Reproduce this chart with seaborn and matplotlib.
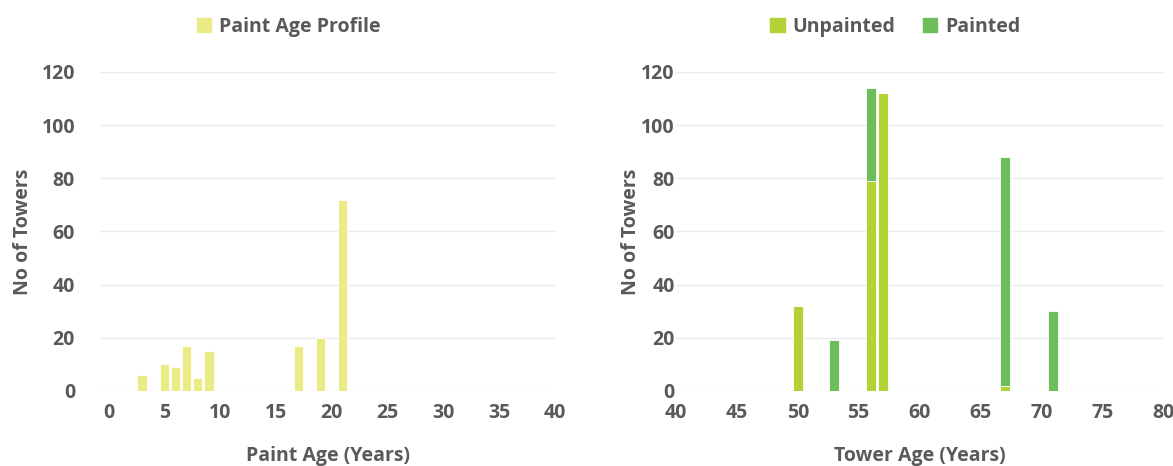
import matplotlib
matplotlib.use("Agg")
import matplotlib.pyplot as plt
from matplotlib.patches import Patch
import pandas as pd
import seaborn as sns

# Paint age profile
paint_age = [3, 5, 6, 7, 8, 9, 17, 19, 21]
paint_count = [6, 10, 9, 17, 5, 15, 17, 20, 72]

# Tower age profile, split by paint status
unpainted_age = [50, 56, 57, 67]
unpainted_count = [32, 79, 112, 2]
painted_age = [53, 56, 67, 71]
painted_count = [19, 35, 86, 30]

y_ticks = [0, 20, 40, 60, 80, 100, 120]
left_ticks = [0, 5, 10, 15, 20, 25, 30, 35, 40]
right_ticks = [40, 45, 50, 55, 60, 65, 70, 75, 80]

YELLOW = "#EBEB86"
LIME = "#B2D235"
GREEN = "#6DBE5A"
TEXT = "#595959"
GRID = "#EBEBEB"
FS_TICK = 14
FS_LABEL = 14
FS_LEGEND = 14

sns.set_theme(style="white")
plt.rcParams["font.family"] = ["Open Sans", "DejaVu Sans"]
plt.rcParams["font.weight"] = "bold"

paint_df = pd.DataFrame({"age": paint_age, "count": paint_count})
tower_df = pd.concat([
    pd.DataFrame({"age": unpainted_age, "count": unpainted_count, "status": "Unpainted"}),
    pd.DataFrame({"age": painted_age, "count": painted_count, "status": "Painted"}),
], ignore_index=True)

fig = plt.figure(figsize=(11.73, 4.66), dpi=100)
ax1 = fig.add_axes([0.0853, 0.161, 0.3879, 0.6845])
ax2 = fig.add_axes([0.5763, 0.161, 0.4152, 0.6845])

sns.histplot(data=paint_df, x="age", weights="count", discrete=True, shrink=0.82,
             color=YELLOW, alpha=1, edgecolor="white", linewidth=0.6, ax=ax1)

sns.histplot(data=tower_df, x="age", weights="count", hue="status",
             hue_order=["Painted", "Unpainted"], multiple="stack",
             palette={"Unpainted": LIME, "Painted": GREEN},
             discrete=True, shrink=0.82, alpha=1, edgecolor="white",
             linewidth=0.6, legend=False, ax=ax2)

def style(ax, xlim, xticks, xlabel, ypad, ylabel_x):
    ax.set_xlim(*xlim)
    ax.set_ylim(0, 120)
    ax.set_xticks(xticks)
    ax.set_yticks(y_ticks)
    ax.tick_params(axis="x", length=0, labelsize=FS_TICK, labelcolor=TEXT, pad=9)
    ax.tick_params(axis="y", length=0, labelsize=FS_TICK, labelcolor=TEXT, pad=ypad)
    for lab in ax.get_xticklabels() + ax.get_yticklabels():
        lab.set_fontweight("bold")
    ax.grid(axis="y", color=GRID, linewidth=1)
    ax.set_axisbelow(True)
    for s in ax.spines.values():
        s.set_visible(False)
    ax.set_xlabel(xlabel, fontsize=FS_LABEL, fontweight="bold", color=TEXT, labelpad=16)
    ax.set_ylabel("No of Towers", fontsize=FS_LABEL, fontweight="bold", color=TEXT)
    ax.yaxis.set_label_coords(ylabel_x, 1 - 232 / 466, transform=fig.transFigure)

style(ax1, (-0.75, 40), left_ticks, "Paint Age (Years)", 18, 33 / 1173)
style(ax2, (40, 80), right_ticks, "Tower Age (Years)", 1, 641 / 1173)

leg_kw = dict(frameon=False, handlelength=0.75, handleheight=0.75, handletextpad=0.4,
              prop={"size": FS_LEGEND, "weight": "bold"}, labelcolor=TEXT, loc="center")
fig.legend(handles=[Patch(color=YELLOW, label="Paint Age Profile")],
           bbox_to_anchor=(0.246, 0.942), **leg_kw)
fig.legend(handles=[Patch(color=LIME, label="Unpainted"), Patch(color=GREEN, label="Painted")],
           bbox_to_anchor=(0.7634, 0.942), ncol=2, columnspacing=1.4, **leg_kw)

fig.savefig("out.png", dpi=100, facecolor="white")
